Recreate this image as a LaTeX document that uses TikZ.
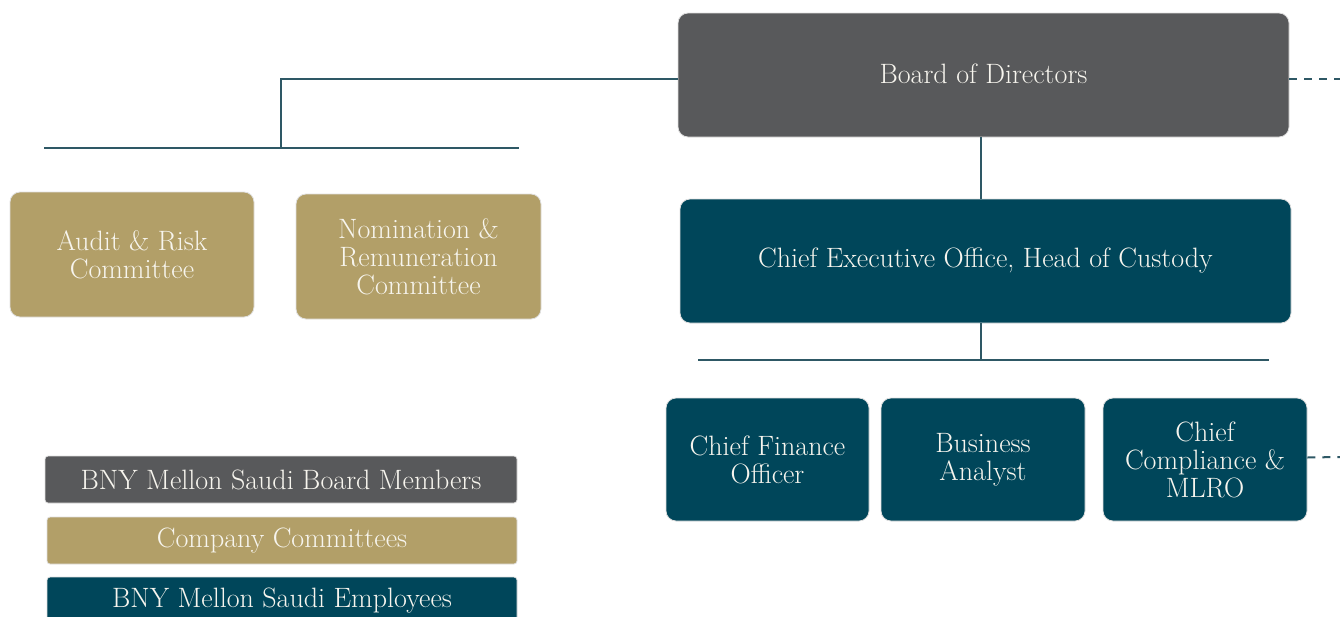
\documentclass[tikz,border=0pt]{standalone}
\usetikzlibrary{calc}
\definecolor{bgray}{HTML}{58595B}
\definecolor{bteal}{HTML}{00465A}
\definecolor{bgold}{HTML}{B29F68}
\definecolor{lineteal}{HTML}{2E5865}
\definecolor{txt}{HTML}{F7F5EE}
\tikzset{
  box/.style={rounded corners=10pt, draw=black!12, line width=0.8pt, text=txt, align=center,
    font=\fontsize{28}{28}\selectfont, inner sep=0pt},
  legbox/.style={rounded corners=3pt, draw=black!12, line width=0.8pt, text=txt, align=center,
    font=\fontsize{28}{28}\selectfont, inner sep=0pt, minimum height=47pt},
  conn/.style={draw=lineteal, line width=1.1pt},
  dashconn/.style={draw=lineteal, line width=2pt, dash pattern=on 8pt off 7pt}
}
\begin{document}
\begin{tikzpicture}[x=1pt,y=-1pt]
\useasboundingbox (0,0) rectangle (1340,616);
\node[box, fill=bgray, minimum width=611pt, minimum height=124pt] (bod) at (983.5,75) {\raisebox{3pt}{Board of Directors}};
\node[box, fill=bteal, minimum width=611pt, minimum height=124pt] (ceo) at (985.5,261) {Chief Executive Office, Head of Custody};
\node[box, fill=bgold, minimum width=244pt, minimum height=125pt] (audit) at (132,254.5) {Audit \& Risk\\Committee};
\node[box, fill=bgold, minimum width=245pt, minimum height=125pt] (nom) at (418.5,256.5) {Nomination \&\\Remuneration\\Committee};
\node[box, fill=bteal, minimum width=203pt, minimum height=123pt] (cfo) at (767.5,459.5) {Chief Finance\\Officer};
\node[box, fill=bteal, minimum width=204pt, minimum height=123pt] (ba) at (983,459.5) {Business\\Analyst};
\node[box, fill=bteal, minimum width=204pt, minimum height=123pt] (cco) at (1205,459.5) {Chief\\Compliance \&\\MLRO};
\node[legbox, fill=bgray, minimum width=472pt] (leg1) at (281,479.5) {BNY Mellon Saudi Board Members};
\node[legbox, fill=bgold, minimum width=470pt] (leg2) at (282,540.5) {Company Committees};
\begin{scope}
\clip (0,0) rectangle (1340,616);
\node[legbox, fill=bteal, minimum width=470pt] (leg3) at (282,600.5) {BNY Mellon Saudi Employees};
\end{scope}
% connectors
\coordinate (j1) at (281,79);
\coordinate (j1b) at (281,148);
\coordinate (h1l) at (44,148);
\coordinate (h1r) at (519,148);
\draw[conn] ([yshift=-4pt]bod.west) -- (j1) -- (j1b);
\draw[conn] (h1l) -- (h1r);
\coordinate (j2) at (981,360);
\coordinate (h2l) at (698,360);
\coordinate (h2r) at (1269,360);
\draw[conn] (j2 |- bod.south) -- (j2 |- ceo.north);
\draw[conn] (j2 |- ceo.south) -- (j2);
\draw[conn] (h2l) -- (h2r);
\coordinate (d1) at (1340,79);
\coordinate (d2) at (1340,457);
\draw[dashconn] ([yshift=-4pt]bod.east) -- (d1);
\draw[dashconn] ([yshift=2pt]cco.east) -- (d2);
\end{tikzpicture}
\end{document}
